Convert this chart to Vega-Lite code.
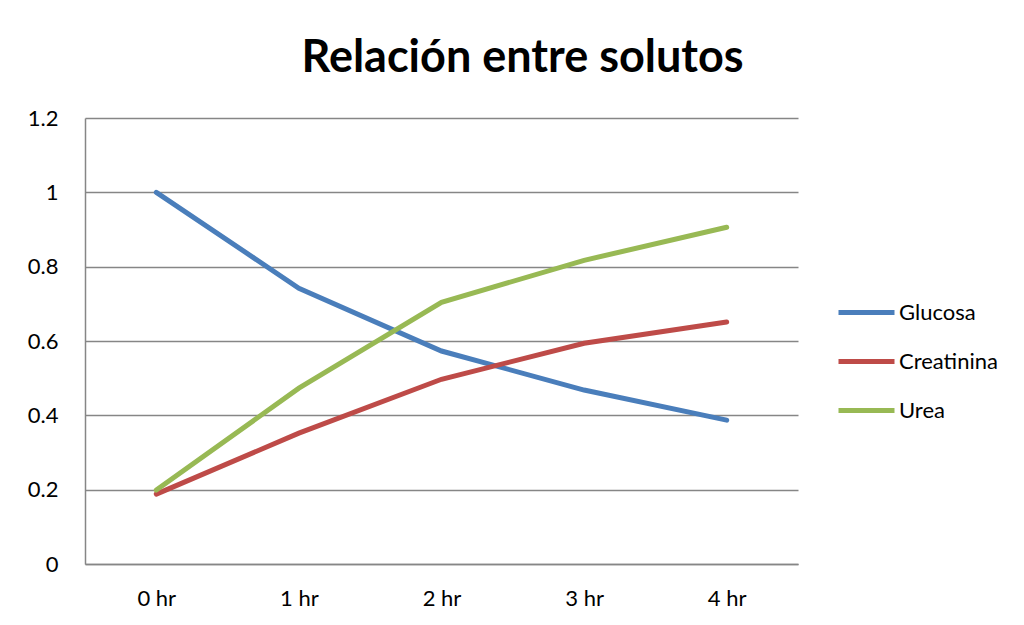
{
  "$schema": "https://vega.github.io/schema/vega-lite/v6.json",
  "width": 713,
  "height": 446,
  "autosize": {"type": "none"},
  "padding": {"left": 85, "top": 118, "right": 226, "bottom": 61},
  "background": "white",
  "title": {
    "text": "Relación entre solutos",
    "font": "Lato",
    "fontSize": 45,
    "fontWeight": "bold",
    "color": "#000000",
    "anchor": "middle",
    "dx": 81,
    "offset": 26
  },
  "data": {
    "values": [
      {"t": "0 hr", "serie": "Glucosa", "v": 1.0},
      {"t": "1 hr", "serie": "Glucosa", "v": 0.742},
      {"t": "2 hr", "serie": "Glucosa", "v": 0.573},
      {"t": "3 hr", "serie": "Glucosa", "v": 0.468},
      {"t": "4 hr", "serie": "Glucosa", "v": 0.387},
      {"t": "0 hr", "serie": "Creatinina", "v": 0.188},
      {"t": "1 hr", "serie": "Creatinina", "v": 0.352},
      {"t": "2 hr", "serie": "Creatinina", "v": 0.497},
      {"t": "3 hr", "serie": "Creatinina", "v": 0.594},
      {"t": "4 hr", "serie": "Creatinina", "v": 0.651},
      {"t": "0 hr", "serie": "Urea", "v": 0.199},
      {"t": "1 hr", "serie": "Urea", "v": 0.473},
      {"t": "2 hr", "serie": "Urea", "v": 0.704},
      {"t": "3 hr", "serie": "Urea", "v": 0.817},
      {"t": "4 hr", "serie": "Urea", "v": 0.906}
    ]
  },
  "mark": {"type": "line", "strokeWidth": 5, "strokeCap": "round"},
  "encoding": {
    "x": {
      "field": "t", "type": "ordinal",
      "scale": {"type": "point", "padding": 0.5},
      "axis": {"title": null, "labelAngle": 0, "ticks": false, "grid": false, "labelPadding": 24,
               "domainColor": "#868686", "domainWidth": 1.5}
    },
    "y": {
      "field": "v", "type": "quantitative",
      "scale": {"domain": [0, 1.2], "nice": false},
      "axis": {"title": null, "values": [0, 0.2, 0.4, 0.6, 0.8, 1, 1.2], "format": "~g", "ticks": false,
               "labelPadding": 27, "gridColor": "#868686", "gridWidth": 1.5,
               "domainColor": "#868686", "domainWidth": 1.5}
    },
    "color": {
      "field": "serie", "type": "nominal",
      "scale": {"domain": ["Glucosa", "Creatinina", "Urea"], "range": ["#4A7EBB", "#BE4B48", "#98B954"]},
      "legend": {
        "title": null, "orient": "none", "legendX": 751, "legendY": 164,
        "symbolType": "stroke", "symbolSize": 3136, "symbolStrokeWidth": 5,
        "labelFontSize": 22, "labelFont": "Lato", "labelColor": "#000000",
        "rowPadding": 7, "labelOffset": 2, "labelLimit": 200
      }
    }
  },
  "config": {
    "view": {"stroke": null},
    "axis": {"labelFont": "Lato", "labelFontSize": 22, "labelColor": "#000000"}
  }
}
